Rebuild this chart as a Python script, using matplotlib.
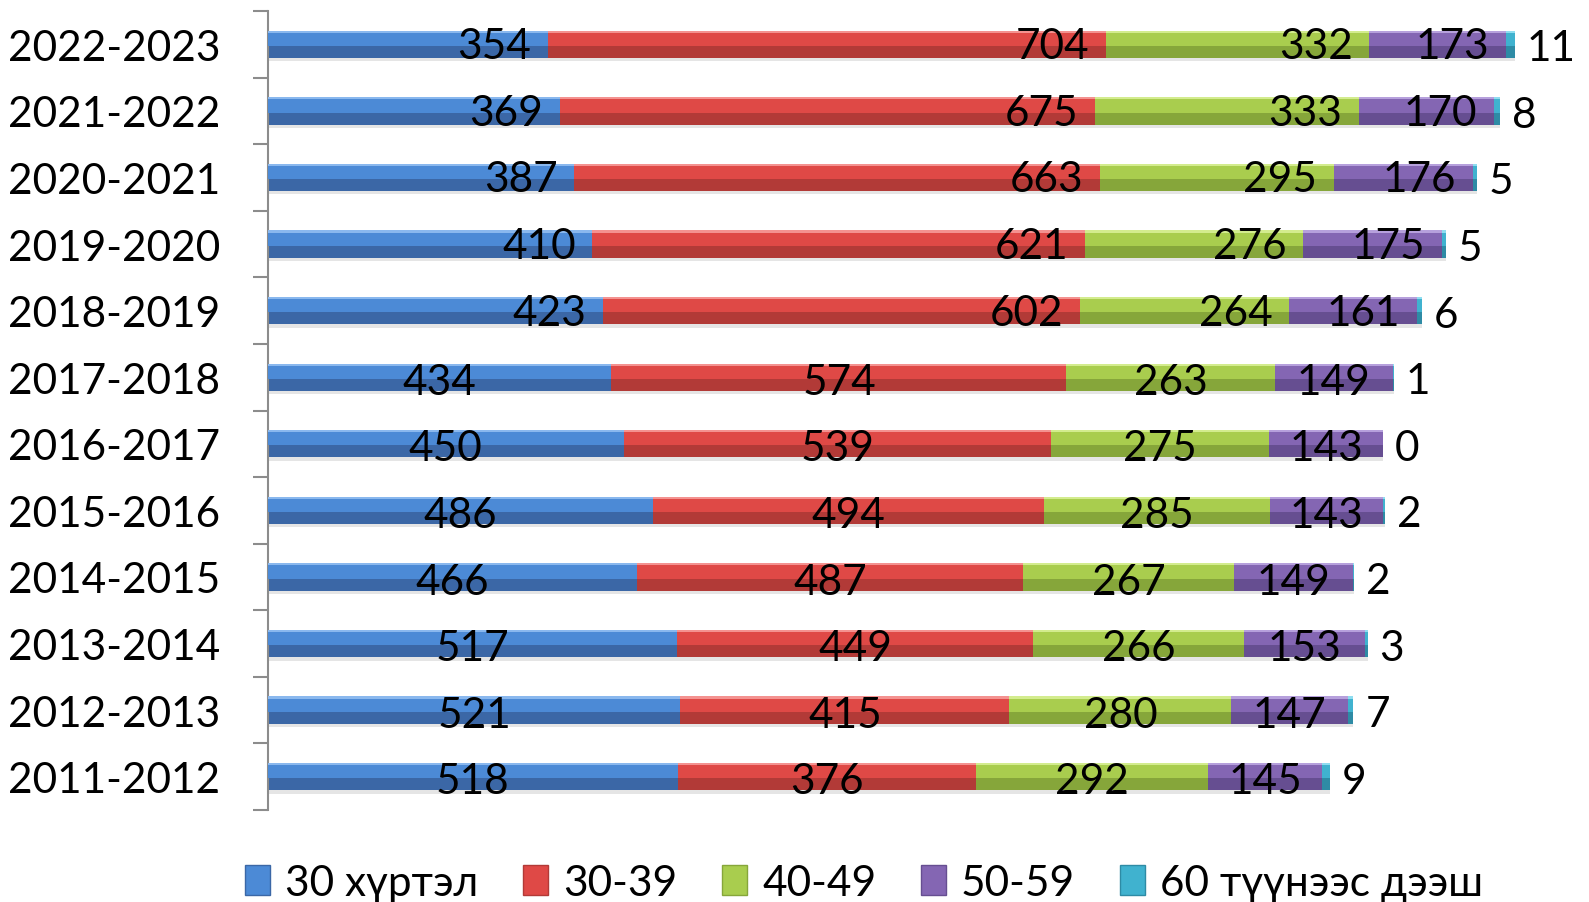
import matplotlib

matplotlib.use("Agg")
import matplotlib.pyplot as plt
from matplotlib.patches import Patch

plt.rcParams["font.family"] = ["Lato", "Open Sans", "DejaVu Sans"]

YEARS = [
    "2011-2012", "2012-2013", "2013-2014", "2014-2015", "2015-2016", "2016-2017",
    "2017-2018", "2018-2019", "2019-2020", "2020-2021", "2021-2022", "2022-2023",
]
SERIES = ["30 хүртэл", "30-39", "40-49", "50-59", "60 түүнээс дээш"]
UNDER_30 = [518, 521, 517, 466, 486, 450, 434, 423, 410, 387, 369, 354]
AGE_30_39 = [376, 415, 449, 487, 494, 539, 574, 602, 621, 663, 675, 704]
AGE_40_49 = [292, 280, 266, 267, 285, 275, 263, 264, 276, 295, 333, 332]
AGE_50_59 = [145, 147, 153, 149, 143, 143, 149, 161, 175, 176, 170, 173]
OVER_60 = [9, 7, 3, 2, 2, 0, 1, 6, 5, 5, 8, 11]

VALUES = [UNDER_30, AGE_30_39, AGE_40_49, AGE_50_59, OVER_60]

# (dark lower half, lighter upper half, top highlight)
COLORS = [
    ("#3B67A6", "#4C8AD6", "#8AB8EE"),
    ("#B23A37", "#DF4946", "#F49290"),
    ("#86A63A", "#A9CD4E", "#D3EC8E"),
    ("#664E91", "#8466B3", "#B6A0DC"),
    ("#2E8BA5", "#40B2CF", "#8FDDF0"),
]

BAR_H = 0.41
XMAX = 1650
PX_PER_UNIT = 0.7926
FS = 30.5


def main():
    fig = plt.figure(figsize=(15.89, 9.03), dpi=100)
    ax = fig.add_axes([267.5 / 1589, 92 / 903, XMAX * PX_PER_UNIT / 1589, 799 / 903])

    ys = list(range(len(YEARS)))
    left = [0] * len(YEARS)
    for vals, (dark, mid, hi) in zip(VALUES, COLORS):
        # soft shadow, then two-tone bevel look
        ax.barh([y - 0.05 for y in ys], vals, left=left, height=BAR_H,
                color="#000000", alpha=0.10, zorder=1)
        ax.barh(ys, vals, left=left, height=BAR_H, color=dark, zorder=2)
        ax.barh([y + BAR_H * 0.22 for y in ys], vals, left=left, height=BAR_H * 0.56,
                color=mid, zorder=3)
        ax.barh([y + BAR_H * 0.46 for y in ys], vals, left=left, height=BAR_H * 0.08,
                color=hi, zorder=4)
        left = [a + b for a, b in zip(left, vals)]

    # data labels
    offset = 21
    for i, y in enumerate(ys):
        start = 0
        for s, vals in enumerate(VALUES):
            v = vals[i]
            end = start + v
            if s == len(VALUES) - 1:
                ax.text(end + 15, y - 0.06, str(v), ha="left", va="center",
                        fontsize=FS, zorder=6, clip_on=False)
            elif y >= 7:
                ax.text(end - offset, y - 0.03, str(v), ha="right", va="center",
                        fontsize=FS, zorder=6)
            else:
                ax.text((start + end) / 2, y - 0.07, str(v), ha="center", va="center",
                        fontsize=FS, zorder=6)
            start = end

    ax.set_xlim(0, XMAX)
    ax.set_ylim(-0.5, len(YEARS) - 0.5)
    ax.set_yticks(ys)
    ax.set_yticklabels(YEARS, fontsize=FS)
    ax.set_yticks([y - 0.5 for y in range(len(YEARS) + 1)], minor=True)
    ax.tick_params(axis="y", which="major", length=0, pad=34)
    ax.tick_params(axis="y", which="minor", length=11, width=1.5, color="#8C8C8C")
    ax.set_xticks([])
    for side in ("top", "right", "bottom"):
        ax.spines[side].set_visible(False)
    ax.spines["left"].set_color("#8C8C8C")
    ax.spines["left"].set_linewidth(1.5)

    handles = [Patch(facecolor=c[1], edgecolor=c[0], linewidth=1) for c in COLORS]
    fig.legend(handles, SERIES, loc="center", bbox_to_anchor=(864 / 1589, 1 - 884 / 903),
               ncol=5, frameon=False, fontsize=FS, handlelength=0.6, handleheight=0.7,
               handletextpad=0.35, columnspacing=1.05)

    fig.savefig("out.png", dpi=100)


if __name__ == "__main__":
    main()
